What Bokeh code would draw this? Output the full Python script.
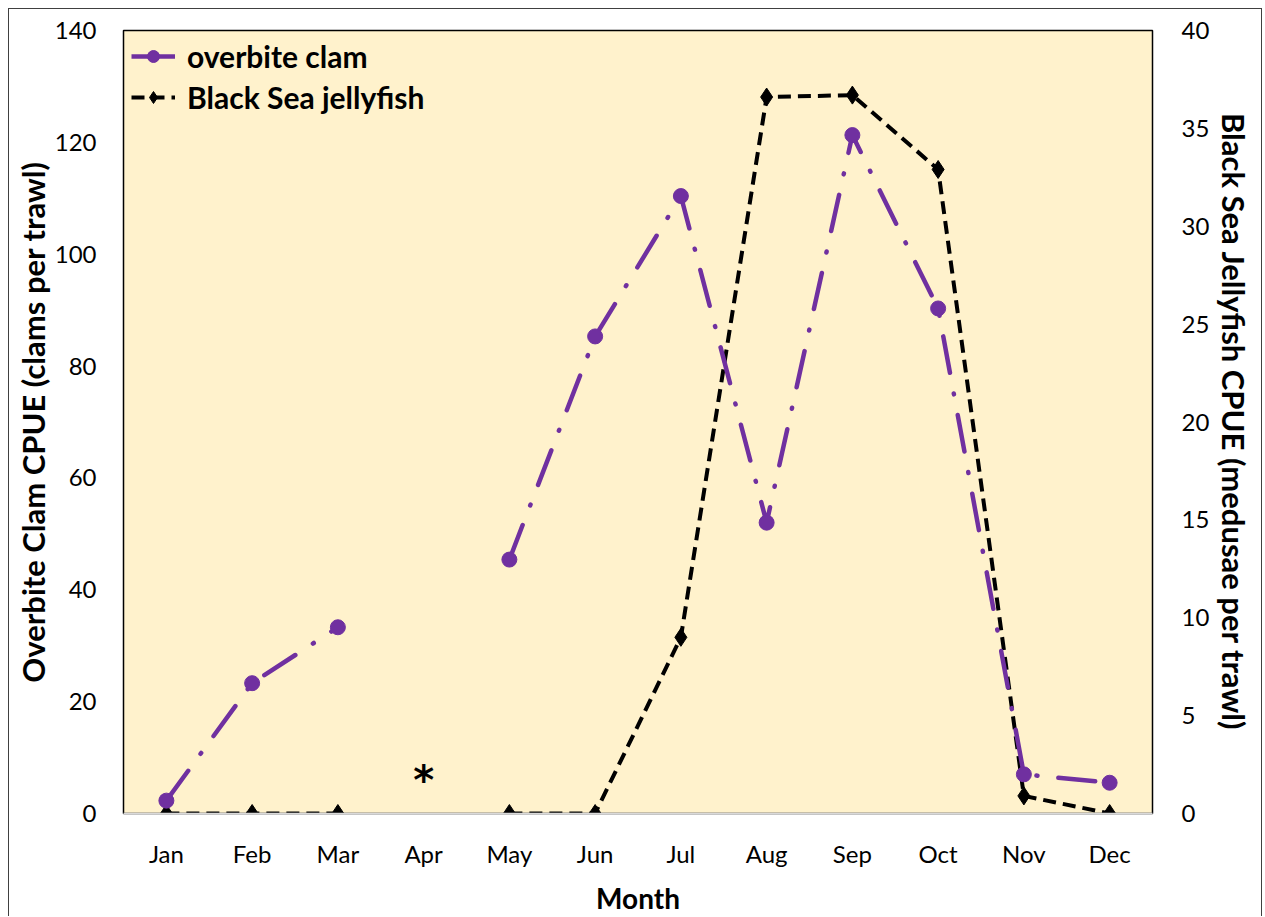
from bokeh.plotting import figure
from bokeh.models import (FactorRange, Range1d, LinearAxis, FixedTicker, Legend, LegendItem,
                          ColumnDataSource)
from bokeh.core.properties import value
from bokeh.embed import file_html
from bokeh.resources import INLINE

nan = float("nan")

months = ["Jan", "Feb", "Mar", "Apr", "May", "Jun", "Jul", "Aug", "Sep", "Oct", "Nov", "Dec"]
clam_cpue = [2.3, 23.3, 33.3, nan, 45.4, 85.3, 110.4, 52.0, 121.3, 90.3, 7.0, 5.5]
jelly_cpue = [0, 0, 0, nan, 0, 0, 9.0, 36.6, 36.7, 32.9, 0.9, 0]
left_ticks = [0, 20, 40, 60, 80, 100, 120, 140]
right_ticks = [0, 5, 10, 15, 20, 25, 30, 35, 40]
note_month = ["Apr"]
note_value = [6.0]
note_text = ["*"]

PURPLE = "#7030A0"
BG = "#FFF2CC"
FONT = "Lato"

p = figure(x_range=FactorRange(*months), y_range=Range1d(0, 140),
           width=1254, height=908, output_backend="svg", toolbar_location=None,
           min_border_left=114, min_border_top=21, min_border_right=111, min_border_bottom=104,
           background_fill_color=BG, border_fill_color="white",
           styles={"margin-left": "8px", "margin-top": "8px",
                   "border-left": "1px solid #404040", "border-top": "1px solid #404040",
                   "border-right": "1px solid #404040"})
p.extra_y_ranges = {"jelly": Range1d(0, 40)}

p.outline_line_color = "black"
p.outline_line_width = 1.5
p.xgrid.grid_line_color = None
p.ygrid.grid_line_color = None

# left axis
ya = p.yaxis[0]
ya.ticker = FixedTicker(ticks=left_ticks)
ya.axis_label = "Overbite Clam CPUE (clams per trawl)"

ra = LinearAxis(y_range_name="jelly", ticker=FixedTicker(ticks=right_ticks),
                axis_label="Black Sea Jellyfish CPUE (medusae per trawl)")
p.add_layout(ra, "right")

for ax in [ya, ra, p.xaxis[0]]:
    ax.major_tick_in = 0
    ax.major_tick_out = 0
    ax.minor_tick_in = 0
    ax.minor_tick_out = 0
    ax.major_label_text_font = FONT
    ax.major_label_text_font_size = "24px"
    ax.major_label_text_color = "black"
    ax.axis_label_text_font = FONT
    ax.axis_label_text_font_size = "31px"
    ax.axis_label_text_font_style = "bold"
    ax.axis_label_text_color = "black"
ya.axis_line_color = None
ra.axis_line_color = None
ya.major_label_standoff = 27
ra.major_label_standoff = 29
ya.axis_label_standoff = 0
ra.axis_label_standoff = 3
xa = p.xaxis[0]
xa.axis_line_color = "#D9D9D9"
xa.axis_line_width = 1.5
xa.major_label_standoff = 25
xa.axis_label = "Month"
xa.axis_label_text_font_size = "28px"
xa.axis_label_standoff = 10

src = ColumnDataSource(dict(month=months, clam=clam_cpue, jelly=jelly_cpue))

# jellyfish (right axis)
jl = p.line("month", "jelly", source=src, y_range_name="jelly", line_color="black",
            line_width=4, line_dash="13 7")
jd = p.scatter("month", "jelly", source=src, y_range_name="jelly", marker="diamond",
               size=18, fill_color="black", line_color="black")

# clam (left axis)
cl = p.line("month", "clam", source=src, line_color=PURPLE, line_width=4.5,
            line_dash="37 21 1 21", line_cap="round")
cc = p.scatter("month", "clam", source=src, marker="circle", size=15,
               fill_color=PURPLE, line_color=PURPLE)

# legend proxy for the solid purple legend line (drawn below the visible range)
leg_line = p.line(x=months[:2], y=[-50, -50], line_color=PURPLE, line_width=4.5)

p.text(x=note_month, y=note_value, text=note_text, text_font=value("DejaVu Sans"),
       text_font_size="40px", text_font_style="bold", text_color="black",
       text_align="center", text_baseline="middle")

legend = Legend(items=[LegendItem(label="overbite clam", renderers=[leg_line, cc]),
                       LegendItem(label="Black Sea jellyfish", renderers=[jl, jd])],
                location="top_left", background_fill_alpha=0, border_line_color=None,
                label_text_font=FONT, label_text_font_size="30px",
                label_text_font_style="bold", label_text_color="black",
                glyph_width=44, glyph_height=30, label_standoff=12, spacing=5,
                margin=8, padding=7)
p.add_layout(legend)

open("out.html", "w").write(file_html(p, INLINE))
